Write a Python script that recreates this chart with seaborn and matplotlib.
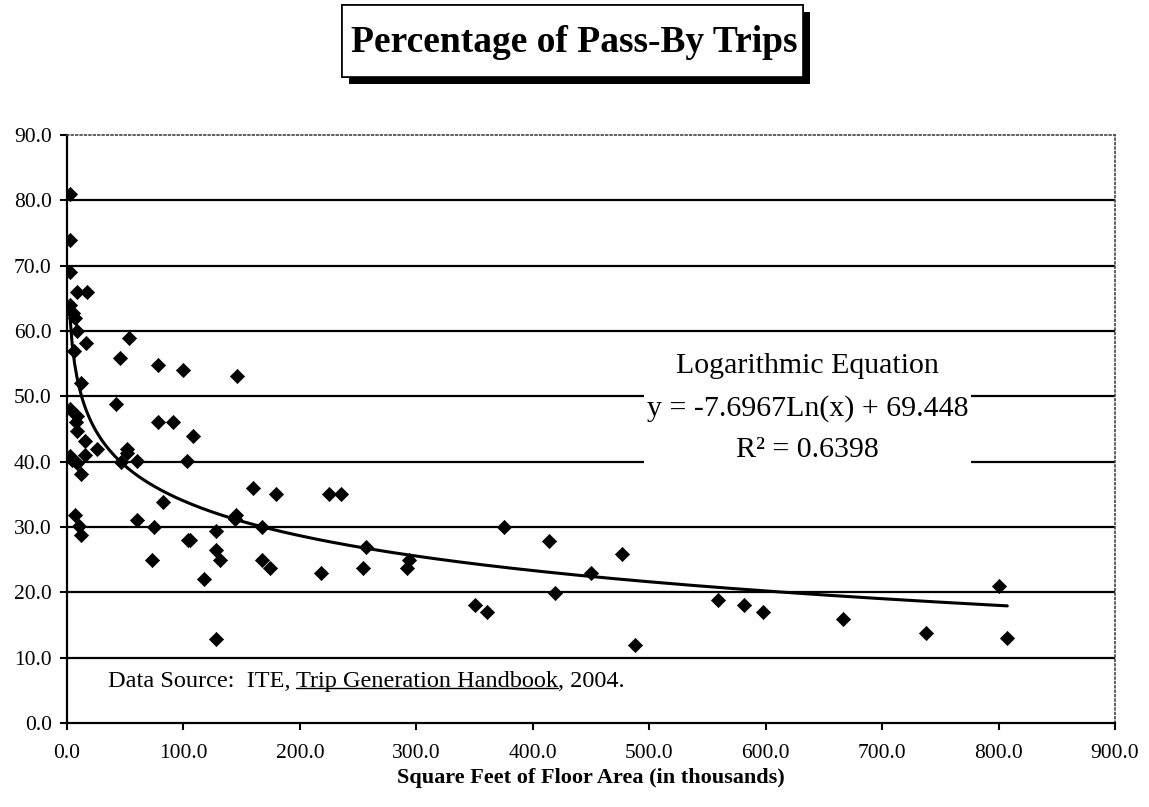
import numpy as np
import matplotlib.pyplot as plt
import matplotlib.patheffects as pe
import seaborn as sns
from matplotlib.lines import Line2D
from matplotlib.patches import Rectangle

# ─── Data ────────────────────────────────────────────────────────────────────
floor_area = [
    2.6, 2.8, 2.6, 8.3, 17.5, 3.0, 5.4, 6.5, 8.3, 16.0, 6.0, 12.0, 2.5, 8.9,
    8.0, 8.3, 15.5, 25.5, 2.5, 4.0, 8.9, 15.5, 11.8, 6.9, 10.3, 11.8,
    53.5, 45.5, 78.4, 100.0, 41.8, 78.4, 91.3, 108.5, 51.8, 46.0, 51.2, 60.0,
    103.3, 82.7, 60.0, 74.7, 72.7, 104.2, 105.5, 146.3, 159.5, 179.2, 225.0,
    235.0, 145.1, 144.5, 167.2, 375.3, 128.0, 128.0, 131.4, 167.2, 174.3,
    117.7, 218.1, 256.5, 254.5, 294.0, 292.3, 350.4, 360.4, 128.0, 414.2,
    477.0, 450.0, 419.1, 487.8, 559.4, 581.4, 598.0, 666.7, 737.5, 800.4,
    807.5,
]
pass_by_pct = [
    81.0, 74.0, 69.0, 66.0, 66.0, 64.0, 62.8, 62.0, 60.0, 58.1, 57.0, 52.0,
    48.0, 47.0, 46.0, 44.7, 43.1, 41.9, 40.8, 40.3, 39.8, 41.0, 38.1, 31.8,
    30.2, 28.8,
    58.9, 55.9, 54.8, 54.0, 48.9, 46.0, 46.0, 43.9, 41.9, 40.0, 41.3, 40.1,
    40.1, 33.8, 31.0, 30.0, 24.9, 28.0, 28.0, 53.1, 35.9, 35.1, 35.1,
    35.1, 31.8, 31.3, 30.0, 30.0, 29.4, 26.5, 24.9, 25.0, 23.8,
    22.1, 22.9, 26.9, 23.8, 25.0, 23.8, 18.1, 17.0, 12.9, 27.9,
    25.9, 22.9, 19.9, 12.0, 18.8, 18.0, 17.0, 15.9, 13.8, 20.9,
    13.0,
]

# logarithmic trendline as printed on the chart
slope, intercept, r_squared = -7.6967, 69.448, 0.6398

x_ticks = [0, 100, 200, 300, 400, 500, 600, 700, 800, 900]
y_ticks = [0, 10, 20, 30, 40, 50, 60, 70, 80, 90]

# ─── Style ───────────────────────────────────────────────────────────────────
sns.set_theme(style="white")
plt.rcParams.update({
    "font.family": ["Liberation Serif", "DejaVu Serif"],
    "figure.facecolor": "white",
    "axes.facecolor": "white",
    "text.color": "black",
    "axes.labelcolor": "black",
    "xtick.color": "black",
    "ytick.color": "black",
})

fig = plt.figure(figsize=(11.49, 8.07), dpi=100)
ax = fig.add_axes([67 / 1149, 1 - 723 / 807, (1115 - 67) / 1149, (723 - 135) / 807])

ax.set_xlim(0, 900)
ax.set_ylim(0, 90)
ax.set_xticks(x_ticks)
ax.set_yticks(y_ticks)
ax.set_xticklabels([f"{v:.1f}" for v in x_ticks], fontsize=15.5)
ax.set_yticklabels([f"{v:.1f}" for v in y_ticks], fontsize=15.5)
ax.tick_params(axis="both", direction="out", length=5, width=1.5,
               color="black", bottom=True, left=True)
ax.tick_params(axis="y", pad=6)
ax.tick_params(axis="x", pad=10)

for y in y_ticks[1:-1]:
    ax.axhline(y, color="black", lw=1.6, zorder=1)

ax.spines["left"].set(color="black", lw=1.6)
ax.spines["bottom"].set(color="black", lw=1.6)
for s in ("top", "right"):
    ax.spines[s].set(color="#444444", lw=1.2, linestyle=":")

# trendline over the data range
xs = np.linspace(min(floor_area), max(floor_area), 400)
ax.plot(xs, slope * np.log(xs) + intercept, color="black", lw=2.2, zorder=3)

sns.scatterplot(x=floor_area, y=pass_by_pct, marker="D", color="black",
                edgecolor="black", s=52, linewidth=0.5, ax=ax, zorder=4)

ax.set_xlabel("Square Feet of Floor Area (in thousands)", fontsize=16,
              fontweight="bold", labelpad=4)

# equation box
ax.text(636, 48.2,
        f"Logarithmic Equation\ny = {slope}Ln(x) + {intercept}\nR\u00b2 = {r_squared}",
        ha="center", va="center", multialignment="center", fontsize=21.5,
        linespacing=1.75, zorder=5,
        bbox=dict(boxstyle="square,pad=0.1", facecolor="white", edgecolor="none"))

# data source with underlined title
t1 = ax.text(35, 6.3, "Data Source:  ITE, ", ha="left", va="center",
             fontsize=17.5, zorder=5)
t2 = ax.annotate("Trip Generation Handbook", xy=(1, 0), xycoords=t1,
                 ha="left", va="bottom", fontsize=17.5, zorder=5)
t3 = ax.annotate(", 2004.", xy=(1, 0), xycoords=t2, ha="left", va="bottom",
                 fontsize=17.5, zorder=5)

# title in a box with drop shadow
box = Rectangle((342 / 1149, 1 - 77 / 807), 461 / 1149, 72 / 807,
                transform=fig.transFigure, facecolor="white",
                edgecolor="black", linewidth=1.2)
box.set_path_effects([
    pe.withSimplePatchShadow(offset=(5, -5), shadow_rgbFace="black", alpha=1.0),
    pe.Normal(),
])
fig.add_artist(box)
fig.text(574 / 1149, 1 - 43 / 807, "Percentage of Pass-By Trips",
         ha="center", va="center", fontsize=27, fontweight="bold")

fig.canvas.draw()
bb = t2.get_window_extent()
inv = fig.transFigure.inverted()
(x0, y0), (x1, _) = inv.transform([(bb.x0, bb.y0 + 4), (bb.x1, bb.y0 + 4)])
fig.add_artist(Line2D([x0, x1], [y0, y0], color="black", lw=1.0))

plt.savefig("out.png", dpi=100)
plt.close()
